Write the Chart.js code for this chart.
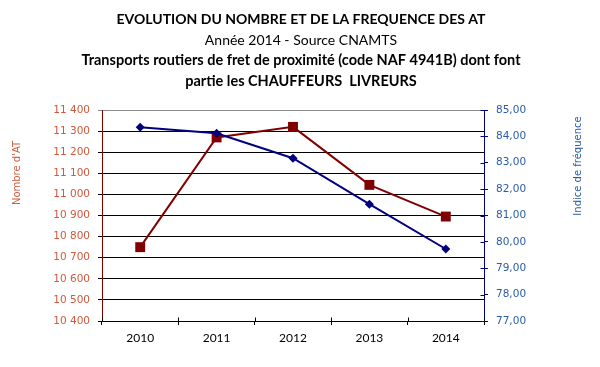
<!DOCTYPE html>
<html>
<head>
<meta charset="utf-8">
<script src="https://cdn.jsdelivr.net/npm/chart.js@4"></script>
<style>
  html, body { margin: 0; padding: 0; background: #fff; }
  #c { display: block; }
</style>
</head>
<body>
<canvas id="c" width="600" height="367"></canvas>
<script>
// ---- data ----
const years = ['2010', '2011', '2012', '2013', '2014'];
const nombreAT = [10750, 11270, 11320, 11045, 10895];
const indiceFrequence = [84.35, 84.12, 83.17, 81.43, 79.73];
const titleLines = [
  'EVOLUTION DU NOMBRE ET DE LA FREQUENCE DES AT',
  'Année 2014 - Source CNAMTS',
  'Transports routiers de fret de proximité (code NAF 4941B) dont font',
  'partie les CHAUFFEURS  LIVREURS'
];
const leftAxisTitle = "Nombre d'AT";
const rightAxisTitle = 'Indice de fréquence';

// ---- styles ----
const RED = '#800000';
const NAVY = '#000080';
const LEFT_TXT = '#CF5A3E';
const RIGHT_TXT = '#2B5CA6';
const TITLE_FONT = 'Lato, "Open Sans", sans-serif';
const TICK_FONT = '"DejaVu Sans", Verdana, sans-serif';

const titleSpec = [
  { bold: true, y: 23.5, size: 14 },
  { bold: false, y: 45, size: 14 },
  { bold: true, y: 65, size: 14.5 },
  { bold: true, y: 85.5, size: 14.5 }
];

const decorPlugin = {
  id: 'decor',
  afterDraw(chart) {
    const ctx = chart.ctx;
    const x = chart.scales.x, y1 = chart.scales.y1;
    ctx.save();
    // title lines
    ctx.fillStyle = '#000';
    ctx.textAlign = 'center';
    ctx.textBaseline = 'alphabetic';
    titleLines.forEach((t, i) => {
      const s = titleSpec[i];
      ctx.font = (s.bold ? 'bold ' : '') + s.size + 'px ' + TITLE_FONT;
      ctx.fillText(t, 301, s.y);
    });
    // axis titles
    ctx.font = '10px ' + TICK_FONT;
    ctx.textBaseline = 'middle';
    ctx.fillStyle = LEFT_TXT;
    ctx.save();
    ctx.translate(17, 173);
    ctx.rotate(-Math.PI / 2);
    ctx.fillText(leftAxisTitle, 0, 0);
    ctx.restore();
    ctx.fillStyle = RIGHT_TXT;
    ctx.save();
    ctx.translate(578.5, 166);
    ctx.rotate(-Math.PI / 2);
    ctx.fillText(rightAxisTitle, 0, 0);
    ctx.restore();
    // inward tick marks on the x axis (category boundaries)
    ctx.lineWidth = 1;
    ctx.strokeStyle = '#000';
    const yb = Math.round(x.top) + 0.5;
    ctx.beginPath();
    for (let i = 0; i <= years.length; i++) {
      const px = Math.round(x.getPixelForValue(i - 0.5)) + 0.5;
      ctx.moveTo(px, yb - 4);
      ctx.lineTo(px, yb);
    }
    ctx.stroke();
    // inward tick marks on the right axis
    ctx.strokeStyle = NAVY;
    const xr = Math.round(y1.left) + 0.5;
    ctx.beginPath();
    y1.ticks.forEach(t => {
      const py = Math.round(y1.getPixelForValue(t.value)) + 0.5;
      ctx.moveTo(xr - 4, py);
      ctx.lineTo(xr, py);
    });
    ctx.stroke();
    ctx.restore();
  }
};

new Chart(document.getElementById('c'), {
  type: 'line',
  data: {
    labels: years,
    datasets: [
      {
        label: rightAxisTitle,
        data: indiceFrequence,
        yAxisID: 'y1',
        borderColor: NAVY,
        backgroundColor: NAVY,
        borderWidth: 2,
        pointStyle: 'rectRot',
        pointRadius: 4.5,
        pointBorderWidth: 0,
        tension: 0,
        order: 0
      },
      {
        label: leftAxisTitle,
        data: nombreAT,
        yAxisID: 'y',
        borderColor: RED,
        backgroundColor: RED,
        borderWidth: 2,
        pointStyle: 'rect',
        pointRadius: 7,
        pointBorderWidth: 0,
        tension: 0,
        order: 1
      }
    ]
  },
  options: {
    responsive: false,
    animation: false,
    devicePixelRatio: 1,
    layout: { padding: { top: 110, left: 0, right: 0, bottom: 0 } },
    plugins: {
      legend: { display: false },
      title: { display: false },
      tooltip: { enabled: false }
    },
    scales: {
      x: {
        offset: true,
        afterFit(s) { s.height = 46; },
        grid: {
          offset: true,
          drawOnChartArea: false,
          drawTicks: true,
          tickLength: 4,
          color: '#000'
        },
        border: { color: '#000', width: 1 },
        ticks: {
          color: '#000',
          font: { family: TITLE_FONT, size: 12 },
          padding: 6,
          maxRotation: 0
        }
      },
      y: {
        position: 'left',
        min: 10400,
        max: 11400,
        afterFit(s) { s.width = 102; },
        grid: {
          color: ctx => (ctx.tick && ctx.tick.value === 11400 ? '#8c8c8c' : '#000'),
          lineWidth: 1,
          drawTicks: true,
          tickLength: 4
        },
        border: { color: RED, width: 1 },
        ticks: {
          stepSize: 100,
          color: LEFT_TXT,
          padding: 8,
          font: { family: TICK_FONT, size: 10.5 },
          callback: v => String(v).replace(/\B(?=(\d{3})+(?!\d))/g, ' ')
        }
      },
      y1: {
        position: 'right',
        min: 77,
        max: 85,
        afterFit(s) { s.width = 116; },
        grid: {
          drawOnChartArea: false,
          drawTicks: true,
          tickLength: 4,
          color: NAVY
        },
        border: { color: NAVY, width: 1 },
        ticks: {
          stepSize: 1,
          color: RIGHT_TXT,
          padding: 8,
          font: { family: TICK_FONT, size: 10.5 },
          callback: v => Number(v).toFixed(2).replace('.', ',')
        }
      }
    }
  },
  plugins: [decorPlugin]
});
</script>
</body>
</html>
